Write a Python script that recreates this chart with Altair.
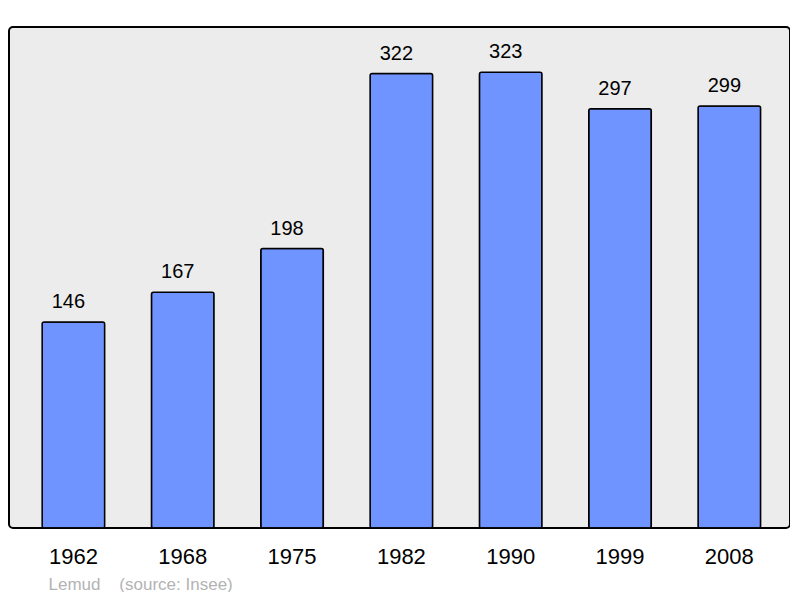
import altair as alt
import pandas as pd

years = ["1962", "1968", "1975", "1982", "1990", "1999", "2008"]
population = [146, 167, 198, 322, 323, 297, 299]

df = pd.DataFrame({"year": years, "pop": population})

FONT = "Liberation Sans"

x = alt.X(
    "year:N",
    sort=years,
    scale=alt.Scale(paddingInner=0.428, paddingOuter=0.286, align=0.53),
    axis=alt.Axis(
        title="Lemud\u00a0\u00a0\u00a0\u00a0(source: Insee)",
        titleX=39,
        titleY=61,
        titleAnchor="start",
        titleAlign="left",
        titleBaseline="alphabetic",
        titleFont=FONT,
        titleFontSize=17,
        titleFontWeight="normal",
        titleColor="#b3b3b3",
        labelAngle=0,
        labelFont=FONT,
        labelFontSize=22,
        labelColor="#000000",
        labelPadding=18,
        ticks=False,
        tickSize=0,
        domain=False,
        grid=False,
    ),
)
y = alt.Y(
    "pop:Q",
    scale=alt.Scale(domain=[0, 355], nice=False, zero=True),
    axis=None,
)

bars = alt.Chart(df).mark_bar(
    color="#7094ff",
    stroke="#000000",
    strokeWidth=1.5,
    cornerRadius=2,
).encode(x=x, y=y)

labels = alt.Chart(df).mark_text(
    font=FONT,
    fontSize=20,
    color="#000000",
    baseline="alphabetic",
    align="center",
    dy=-14,
    dx=-5,
).encode(x=alt.X("year:N", sort=years), y="pop:Q", text="pop:Q")

chart = (
    alt.layer(bars, labels)
    .properties(
        width=781,
        height=501,
        background="#ffffff",
        padding={"left": 1, "top": 19, "right": 0, "bottom": 0},
    )
    .configure_view(fill="#ececec", stroke="#000000", strokeWidth=2, cornerRadius=4)
)

chart.save("out.html", embed_options={"renderer": "svg", "actions": False})
